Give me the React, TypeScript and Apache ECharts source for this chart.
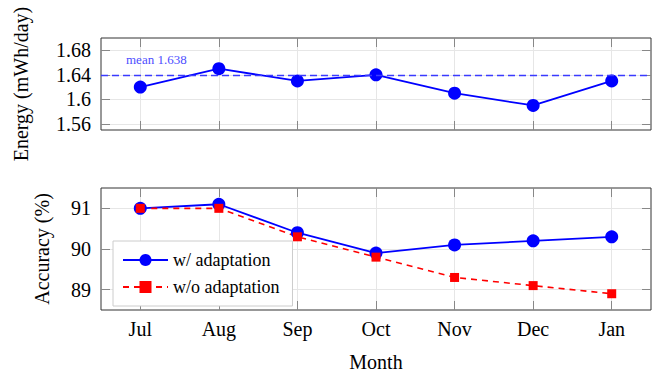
import React, { useEffect, useRef } from "react";
import * as echarts from "echarts";

const months = ["Jul", "Aug", "Sep", "Oct", "Nov", "Dec", "Jan"];
const energy = [1.62, 1.65, 1.63, 1.64, 1.61, 1.59, 1.63];
const energyMean = 1.638;
const energyTicks = [1.56, 1.6, 1.64, 1.68];
const withAdaptation = [91.0, 91.1, 90.4, 89.9, 90.1, 90.2, 90.3];
const withoutAdaptation = [91.0, 91.0, 90.3, 89.8, 89.3, 89.1, 88.9];
const accuracyTicks = [89, 90, 91];

const FONT = "Liberation Serif";
const TICK = { show: true, inside: true, length: 9, alignWithLabel: true, lineStyle: { color: "#888", width: 1 } };
const GRIDLINE = { show: true, alignWithLabel: true, lineStyle: { color: "#e6e6e6", width: 1 } };

export default function App() {
  const ref = useRef<HTMLDivElement>(null);
  useEffect(() => {
    document.body.style.margin = "0";
    const chart = echarts.init(ref.current!, null, { renderer: "svg" });
    const catAxis = (gridIndex: number, position: string, labels: boolean, grid: boolean) => ({
      type: "category",
      gridIndex,
      position,
      data: months,
      boundaryGap: true,
      axisLine: { show: false },
      axisTick: TICK,
      splitLine: grid ? GRIDLINE : { show: false },
      axisLabel: labels
        ? { show: true, margin: 9, fontSize: 20, fontFamily: FONT, color: "#000" }
        : { show: false },
    });
    const valAxis = (
      gridIndex: number,
      position: string,
      min: number,
      max: number,
      ticks: number[],
      labels: boolean,
      name: string,
      nameGap: number
    ) => ({
      type: "value",
      gridIndex,
      position,
      min,
      max,
      axisLine: { show: false },
      axisTick: { ...TICK, customValues: ticks },
      splitLine: labels ? { show: true, lineStyle: { color: "#e6e6e6", width: 1 } } : { show: false },
      axisLabel: labels
        ? {
            show: true,
            customValues: ticks,
            margin: 10,
            fontSize: 20,
            fontFamily: FONT,
            color: "#000",
            formatter: (v: number) => String(Number(v.toFixed(2))),
          }
        : { show: false },
      name: labels ? name : "",
      nameLocation: "middle",
      nameRotate: 90,
      nameGap,
      nameTextStyle: { fontSize: 20, fontFamily: FONT, color: "#000" },
    });

    chart.setOption({
      animation: false,
      backgroundColor: "#fff",
      textStyle: { fontFamily: FONT },
      grid: [
        { left: 101, right: 16, top: 38, height: 92, show: true, borderColor: "#333", borderWidth: 1, outerBoundsMode: "none", containLabel: false },
        { left: 101, right: 16, top: 188, height: 122, show: true, borderColor: "#333", borderWidth: 1, outerBoundsMode: "none", containLabel: false },
      ],
      xAxis: [
        catAxis(0, "bottom", false, true),
        catAxis(0, "top", false, false),
        {
          ...catAxis(1, "bottom", true, true),
          name: "Month",
          nameLocation: "middle",
          nameGap: 42,
          nameTextStyle: { fontSize: 20, fontFamily: FONT, color: "#000" },
        },
        catAxis(1, "top", false, false),
      ],
      yAxis: [
        valAxis(0, "left", 1.55, 1.7, energyTicks, true, "Energy (mWh/day)", 70),
        valAxis(0, "right", 1.55, 1.7, energyTicks, false, "", 0),
        valAxis(1, "left", 88.5, 91.5, accuracyTicks, true, "Accuracy (%)", 49),
        valAxis(1, "right", 88.5, 91.5, accuracyTicks, false, "", 0),
      ],
      legend: {
        left: 113,
        top: 241,
        orient: "vertical",
        padding: [10, 13, 10, 9],
        itemGap: 9,
        itemWidth: 45,
        itemHeight: 15,
        backgroundColor: "#fff",
        borderColor: "#ccc",
        borderWidth: 1,
        textStyle: { fontSize: 18, fontFamily: FONT, fontStyle: "normal", color: "#000", lineHeight: 18 },
        data: ["w/ adaptation", "w/o adaptation"],
      },
      series: [
        {
          name: "energy",
          type: "line",
          xAxisIndex: 0,
          yAxisIndex: 0,
          data: energy,
          symbol: "circle",
          symbolSize: 13,
          itemStyle: { color: "#0000ff" },
          lineStyle: { color: "#0000ff", width: 1.8 },
          markLine: {
            silent: true,
            symbol: ["none", "none"],
            label: {
              show: true,
              position: "insideStartTop",
              distance: [25, 9],
              formatter: "mean " + energyMean,
              fontSize: 13,
              fontFamily: FONT,
              color: "#4d4dff",
            },
            data: [
              {
                yAxis: energyMean,
                lineStyle: { color: "#3a3aff", type: [7, 4], width: 1.3, opacity: 1 },
              },
            ],
          },
        },
        {
          name: "w/ adaptation",
          type: "line",
          xAxisIndex: 2,
          yAxisIndex: 2,
          data: withAdaptation,
          symbol: "circle",
          symbolSize: 13,
          itemStyle: { color: "#0000ff" },
          lineStyle: { color: "#0000ff", width: 1.8 },
        },
        {
          name: "w/o adaptation",
          type: "line",
          xAxisIndex: 2,
          yAxisIndex: 2,
          data: withoutAdaptation,
          symbol: "rect",
          symbolSize: 9,
          itemStyle: { color: "#ff0000" },
          lineStyle: { color: "#ff0000", width: 1.6, type: [6, 5] },
        },
      ],
    });
    return () => chart.dispose();
  }, []);
  return <div ref={ref} style={{ width: 667, height: 377 }} />;
}
